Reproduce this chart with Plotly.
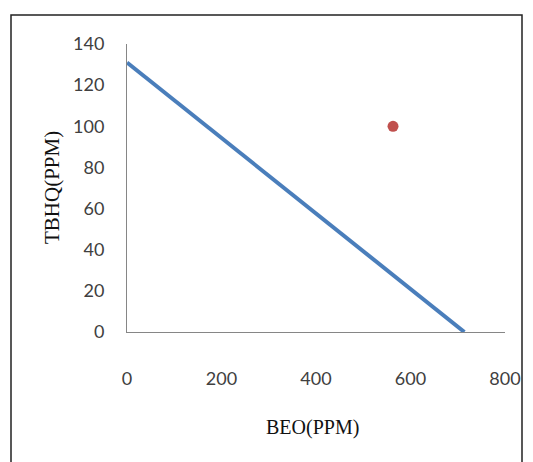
import plotly.graph_objects as go

# Data
line_x = [0, 714]
line_y = [131, 0]
point_x = [563]
point_y = [100]

x_ticks = [0, 200, 400, 600, 800]
y_ticks = [0, 20, 40, 60, 80, 100, 120, 140]
x_title = "BEO(PPM)"
y_title = "TBHQ(PPM)"

W, H = 533, 462
L, R, T, B = 127, 28, 44, 130
pw = W - L - R
ph = H - T - B

def px_x(p):
    return (p - L) / pw

def px_y(p):
    return (H - B - p) / ph

fig = go.Figure()
fig.add_trace(go.Scatter(x=line_x, y=line_y, mode="lines",
                         line=dict(color="#4A7EBB", width=4), showlegend=False,
                         cliponaxis=False))
fig.add_trace(go.Scatter(x=point_x, y=point_y, mode="markers",
                         marker=dict(color="#C0504D", size=11, line=dict(width=0)),
                         showlegend=False))

tick_font = dict(family="Lato, Liberation Sans, sans-serif", size=18, color="#404040")
title_font = dict(family="Liberation Serif, Times New Roman, serif", size=20, color="#111111")

fig.update_layout(
    width=W, height=H,
    margin=dict(l=L, r=R, t=T, b=B, pad=0),
    paper_bgcolor="white", plot_bgcolor="white",
    hovermode=False,
    xaxis=dict(range=[0, 800], tickvals=x_ticks, showgrid=False, zeroline=False,
               showline=True, linecolor="#868686", linewidth=1,
               ticks="", tickfont=tick_font, ticklabelstandoff=30,
               ticklabeloverflow="allow"),
    yaxis=dict(range=[0, 140], tickvals=y_ticks, showgrid=False, zeroline=False,
               showline=True, linecolor="#868686", linewidth=1,
               ticks="", tickfont=tick_font, ticklabelstandoff=18),
    annotations=[
        dict(text=x_title, xref="paper", yref="paper", x=px_x(312), y=px_y(427),
             showarrow=False, font=title_font, xanchor="center", yanchor="middle"),
        dict(text=y_title, xref="paper", yref="paper", x=px_x(52), y=px_y(188),
             showarrow=False, font=dict(title_font, size=21), textangle=-90,
             xanchor="center", yanchor="middle"),
    ],
    shapes=[
        dict(type="rect", xref="paper", yref="paper",
             x0=px_x(11), x1=px_x(522), y0=px_y(490), y1=px_y(15),
             line=dict(color="#222222", width=1.5), fillcolor="rgba(0,0,0,0)", layer="below"),
    ],
)

fig.write_html(
    "out.html",
    config={"displayModeBar": False, "staticPlot": True},
    post_script="document.body.style.margin='0';document.body.style.overflow='hidden';",
)
